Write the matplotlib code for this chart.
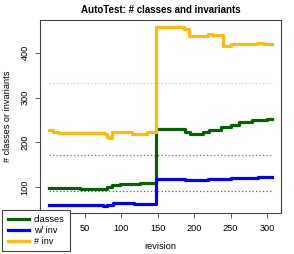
"""
AutoTest: number of classes and invariants per revision
"""
import matplotlib
matplotlib.use('Agg')
import matplotlib.pyplot as plt

plt.rcParams['font.family'] = ['Liberation Sans', 'DejaVu Sans']

# step breakpoints (revision, value held until next revision)
rev_classes = [1, 5, 43, 80, 87, 99, 112, 126, 138, 148, 188, 194, 212, 221, 237, 251, 261, 279, 300, 307]
classes = [97, 99, 96, 100, 104, 108, 106, 109, 110, 230, 222, 218, 222, 227, 234, 238, 245, 250, 252, 253]

rev_with_inv = [1, 75, 80, 89, 117, 148, 187, 219, 251, 288, 307]
with_inv = [60, 58, 60, 64, 62, 119, 116, 118, 121, 123, 123]

rev_num_inv = [1, 7, 15, 78, 81, 84, 87, 99, 115, 136, 148, 186, 193, 219, 224, 240, 251, 286, 295, 307]
num_inv = [227, 223, 221, 218, 213, 210, 222, 223, 219, 222, 457, 453, 438, 441, 439, 416, 420, 421, 420, 420]

# mean levels (dotted lines)
mean_classes = 171
mean_with_inv = 92
mean_num_inv = 333

labels = ['classes', 'w/ inv', '# inv']
colors = ['#006400', '#0000FF', '#FFB90F']

fig = plt.figure(figsize=(2.94, 2.54), dpi=100)
ax = fig.add_axes([0.136, 0.161, 0.820, 0.760])

series = [(rev_classes, classes), (rev_with_inv, with_inv), (rev_num_inv, num_inv)]
handles = []
for (x, y), c, lab in zip(series, colors, labels):
    h, = ax.step(x, y, where='post', color=c, lw=2.3, label=lab, solid_joinstyle='round')
    handles.append(h)

for m, c in zip([mean_classes, mean_with_inv, mean_num_inv], colors):
    ax.plot([1, 307], [m, m], color=c, lw=0.9, linestyle=(0, (1, 1.8)), alpha=0.7)

ax.set_xlim(-11.2, 319.2)
ax.set_ylim(42, 473)
# the 0 tick sits under the legend in the original
ax.set_xticks([50, 100, 150, 200, 250, 300])
ax.set_yticks([100, 200, 300, 400])
ax.tick_params(labelsize=6.6, length=3.6, width=0.6, color='#444444', pad=4)
for lab in ax.get_yticklabels():
    lab.set_rotation(90)
    lab.set_va('center')
for s in ax.spines.values():
    s.set_linewidth(0.8)
    s.set_color('#444444')

ax.set_title('AutoTest: # classes and invariants', fontsize=7, fontweight='bold', pad=5)
ax.set_xlabel('revision', fontsize=6.6, labelpad=7)
ax.set_ylabel('# classes or invariants', fontsize=6.6, labelpad=6)

leg = fig.legend(handles=handles, labels=labels, loc='lower left',
                 bbox_to_anchor=(0.0085, 0.012), borderaxespad=0, fontsize=6.6,
                 fancybox=False, edgecolor='#444444', framealpha=1,
                 handlelength=2.3, handletextpad=0.6, labelspacing=0.2,
                 borderpad=0.55)
leg.get_frame().set_linewidth(0.8)

plt.savefig('out.png', dpi=100)
plt.close()
